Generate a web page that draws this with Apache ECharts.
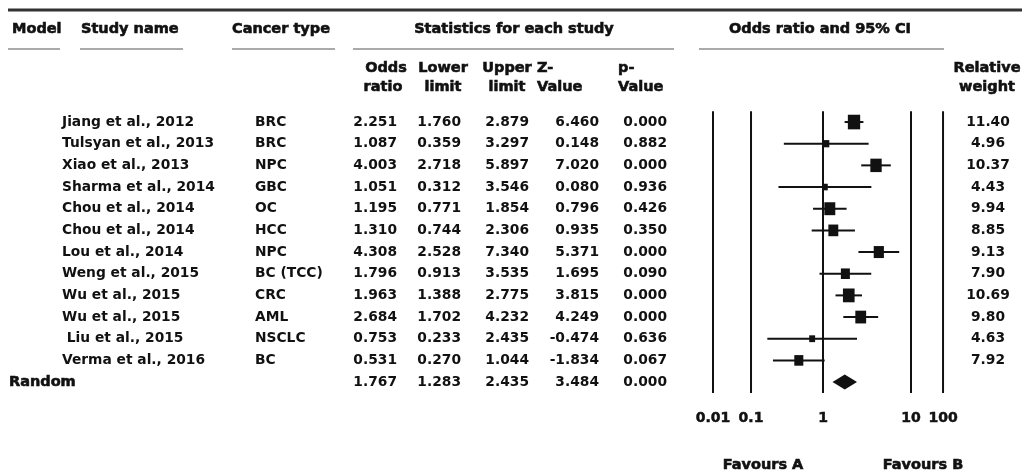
<!DOCTYPE html>
<html><head><meta charset="utf-8">
<script src="https://cdn.jsdelivr.net/npm/echarts@6/dist/echarts.min.js"></script>
<style>html,body{margin:0;padding:0;background:#fff}#c{width:1022px;height:473px}</style>
</head><body><div id="c"></div>
<script>
// ---- data ----
const studyNames = ["Jiang et al., 2012","Tulsyan et al., 2013","Xiao et al., 2013","Sharma et al., 2014","Chou et al., 2014","Chou et al., 2014","Lou et al., 2014","Weng et al., 2015","Wu et al., 2015","Wu et al., 2015"," Liu et al., 2015","Verma et al., 2016"];
const cancerTypes = ["BRC","BRC","NPC","GBC","OC","HCC","NPC","BC (TCC)","CRC","AML","NSCLC","BC"];
const oddsRatio  = [2.251,1.087,4.003,1.051,1.195,1.310,4.308,1.796,1.963,2.684,0.753,0.531];
const lowerLimit = [1.760,0.359,2.718,0.312,0.771,0.744,2.528,0.913,1.388,1.702,0.233,0.270];
const upperLimit = [2.879,3.297,5.897,3.546,1.854,2.306,7.340,3.535,2.775,4.232,2.435,1.044];
const zValue     = [6.460,0.148,7.020,0.080,0.796,0.935,5.371,1.695,3.815,4.249,-0.474,-1.834];
const pValue     = [0.000,0.882,0.000,0.936,0.426,0.350,0.000,0.090,0.000,0.000,0.636,0.067];
const relWeight  = [11.40,4.96,10.37,4.43,9.94,8.85,9.13,7.90,10.69,9.80,4.63,7.92];
const randomLabel = "Random";
const randomStats = [1.767,1.283,2.435,3.484,0.000]; // OR, lower, upper, Z, p
// reference lines of the forest plot (log10 units, as placed in the source figure) and their labels
const tickPositions = [-1.25,-0.818,0,1,1.364];
const tickLabels = ["0.01","0.1","1","10","100"];

// ---- chart ----
const FONT = '"DejaVu Sans", "Liberation Sans", sans-serif';
const dataFont = 'bold 13.8px ' + FONT;
const headFont = 'bold 14.5px ' + FONT;
const INK = '#111';
const nRows = studyNames.length + 1;
const rowIdx = Array.from({length:nRows},(_,i)=>String(i));

const tableRows = rowIdx.map((_,i)=>[0,i]);
const forestData = oddsRatio.map((v,i)=>[Math.log10(lowerLimit[i]),Math.log10(upperLimit[i]),Math.log10(v),i,relWeight[i]]);
const pooledData = [[Math.log10(randomStats[1]),Math.log10(randomStats[2]),Math.log10(randomStats[0]),nRows-1]];
const refLineData = tickPositions.map(v=>[v,0]);

function txt(x,y,text,align,font){
  const heavy = font===headFont;
  return {type:'text',x:x,y:y,style:{text:text,textAlign:align,textVerticalAlign:'middle',font:font||dataFont,fill:INK,
    stroke:heavy?INK:null,lineWidth:heavy?0.6:0}};
}

const chart = echarts.init(document.getElementById('c'),null,{renderer:'canvas'});
chart.setOption({
  animation:false,
  backgroundColor:'#fff',
  grid:{left:691,right:67,top:111.2,height:281.7},
  xAxis:{type:'value',min:-1.5,max:1.5,
    axisLine:{show:false},axisTick:{show:false},splitLine:{show:false},
    axisLabel:{customValues:tickPositions,margin:18,color:INK,fontWeight:'bold',fontSize:14,fontFamily:FONT,
      textBorderColor:INK,textBorderWidth:0.5,
      formatter:function(v){const k=tickPositions.indexOf(v);return k>=0?tickLabels[k]:'';}}},
  yAxis:{type:'category',data:rowIdx,inverse:true,
    axisLine:{show:false},axisTick:{show:false},axisLabel:{show:false},splitLine:{show:false}},
  graphic:[
    {type:'line',shape:{x1:8,y1:10,x2:1022,y2:10},style:{stroke:'#333',lineWidth:3}},
    {type:'line',shape:{x1:8,y1:49,x2:60,y2:49},style:{stroke:'#aaa',lineWidth:2}},
    {type:'line',shape:{x1:80,y1:49,x2:183,y2:49},style:{stroke:'#aaa',lineWidth:2}},
    {type:'line',shape:{x1:232,y1:49,x2:335,y2:49},style:{stroke:'#aaa',lineWidth:2}},
    {type:'line',shape:{x1:353,y1:49,x2:674,y2:49},style:{stroke:'#aaa',lineWidth:2}},
    {type:'line',shape:{x1:699,y1:49,x2:944,y2:49},style:{stroke:'#aaa',lineWidth:2}},
    txt(12,29,'Model','left',headFont),
    txt(81,29,'Study name','left',headFont),
    txt(232,29,'Cancer type','left',headFont),
    txt(514,29,'Statistics for each study','center',headFont),
    txt(820,29,'Odds ratio and 95% CI','center',headFont),
    txt(386,68,'Odds','center',headFont), txt(383,87,'ratio','center',headFont),
    txt(443,68,'Lower','center',headFont), txt(443,87,'limit','center',headFont),
    txt(507,68,'Upper','center',headFont), txt(507,87,'limit','center',headFont),
    txt(537,68,'Z-','left',headFont), txt(537,87,'Value','left',headFont),
    txt(618,68,'p-','left',headFont), txt(618,87,'Value','left',headFont),
    txt(987,68,'Relative','center',headFont), txt(987,87,'weight','center',headFont),
    txt(763,465,'Favours A','center',headFont),
    txt(923,465,'Favours B','center',headFont)
  ],
  series:[
    {type:'custom',clip:false,silent:true,data:tableRows,encode:{x:0,y:1},
     renderItem:function(params,api){
       const i=params.dataIndex; const y=api.coord([0,i])[1];
       if(i===nRows-1){
         return {type:'group',children:[
           txt(9,y,randomLabel,'left',headFont),
           txt(397,y,randomStats[0].toFixed(3),'right'),
           txt(461,y,randomStats[1].toFixed(3),'right'),
           txt(529,y,randomStats[2].toFixed(3),'right'),
           txt(599,y,randomStats[3].toFixed(3),'right'),
           txt(667,y,randomStats[4].toFixed(3),'right')
         ]};
       }
       return {type:'group',children:[
         txt(62,y,studyNames[i],'left'),
         txt(255,y,cancerTypes[i],'left'),
         txt(397,y,oddsRatio[i].toFixed(3),'right'),
         txt(461,y,lowerLimit[i].toFixed(3),'right'),
         txt(529,y,upperLimit[i].toFixed(3),'right'),
         txt(599,y,zValue[i].toFixed(3),'right'),
         txt(667,y,pValue[i].toFixed(3),'right'),
         txt(988,y,relWeight[i].toFixed(2),'center')
       ]};
     }},
    {type:'custom',clip:false,silent:true,data:refLineData,encode:{x:0,y:1},
     renderItem:function(params,api){
       const cs=params.coordSys; const p=api.coord([api.value(0),0]);
       return {type:'line',shape:{x1:p[0],y1:cs.y,x2:p[0],y2:cs.y+cs.height},style:{stroke:INK,lineWidth:2}};
     }},
    {type:'custom',clip:false,silent:true,data:forestData,encode:{x:[0,1,2],y:3},
     renderItem:function(params,api){
       const i=api.value(3);
       const a=api.coord([api.value(0),i]), b=api.coord([api.value(1),i]), c=api.coord([api.value(2),i]);
       const w=api.value(4); const sw=0.95*w+1.5, sh=1.15*w+1.5;
       return {type:'group',children:[
         {type:'line',shape:{x1:a[0],y1:a[1],x2:b[0],y2:b[1]},style:{stroke:INK,lineWidth:2}},
         {type:'rect',shape:{x:c[0]-sw/2,y:c[1]-sh/2,width:sw,height:sh},style:{fill:INK}}
       ]};
     }},
    {type:'custom',clip:false,silent:true,data:pooledData,encode:{x:[0,1,2],y:3},
     renderItem:function(params,api){
       const i=api.value(3);
       const a=api.coord([api.value(0),i]), b=api.coord([api.value(1),i]), c=api.coord([api.value(2),i]);
       const h=7.5;
       return {type:'polygon',shape:{points:[[a[0],c[1]],[c[0],c[1]-h],[b[0],c[1]],[c[0],c[1]+h]]},style:{fill:INK}};
     }}
  ]
});
</script>
</body></html>
